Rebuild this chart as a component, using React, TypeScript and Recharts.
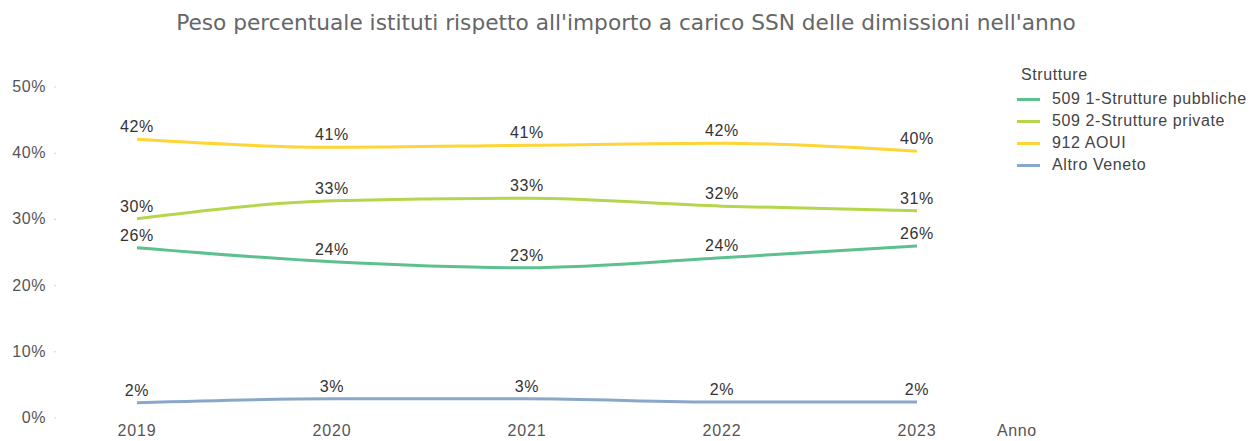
import React from 'react';
import { LineChart, Line, XAxis, YAxis, LabelList } from 'recharts';

const years = ['2019', '2020', '2021', '2022', '2023'];
const pubbliche = [25.7, 23.6, 22.7, 24.2, 26.0];
const private_ = [30.1, 32.8, 33.2, 32.0, 31.3];
const aoui = [42.1, 40.9, 41.2, 41.5, 40.3];
const altroVeneto = [2.3, 2.9, 2.9, 2.4, 2.4];
const yTicks = [0, 10, 20, 30, 40, 50];

const series = [
  { key: 'pubbliche', name: '509 1-Strutture pubbliche', color: '#5cc08f', values: pubbliche },
  { key: 'private', name: '509 2-Strutture private', color: '#b5d64c', values: private_ },
  { key: 'aoui', name: '912 AOUI', color: '#fdd535', values: aoui },
  { key: 'altro', name: 'Altro Veneto', color: '#8aa7ca', values: altroVeneto },
];

const data = years.map((year, i) => {
  const row: any = { year };
  series.forEach((s) => (row[s.key] = s.values[i]));
  return row;
});

const font = '"Liberation Sans", Arial, sans-serif';

const YTick = (props: any) => {
  const { x, y, payload } = props;
  return (
    <g>
      <text x={46} y={y} dy={5} textAnchor="end" fontSize={16} fill="#555" fontFamily={font} letterSpacing={0.6}>
        {payload.value}%
      </text>
      <circle cx={x + 1} cy={y} r={0.8} fill="#ccc" />
    </g>
  );
};

// legenda a destra, fuori dall'area del grafico
const LegendBox = () => (
  <div style={{ position: 'absolute', left: 1017, top: 66, fontFamily: font, fontSize: 16, color: '#444', letterSpacing: 0.6 }}>
    <div style={{ marginLeft: 4, height: 22 }}>Strutture</div>
    {series.map((s) => (
      <div key={s.key} style={{ display: 'flex', alignItems: 'center', height: 22 }}>
        <span style={{ width: 23, height: 3, background: s.color, marginRight: 12 }} />
        <span>{s.name}</span>
      </div>
    ))}
  </div>
);

export default function App() {
  return (
    <div style={{ position: 'absolute', left: 0, top: 0, width: 1260, height: 441, background: '#fff' }}>
      <div
        style={{
          position: 'absolute',
          top: 10,
          left: 0,
          width: 1252,
          textAlign: 'center',
          fontFamily: '"DejaVu Sans", sans-serif',
          fontSize: 21.7,
          color: '#666',
        }}
      >
        Peso percentuale istituti rispetto all'importo a carico SSN delle dimissioni nell'anno
      </div>
      <div style={{ position: 'absolute', left: 997, top: 422, fontFamily: font, fontSize: 16, color: '#555', letterSpacing: 0.6 }}>
        Anno
      </div>
      <LegendBox />
      <LineChart width={1260} height={441} data={data} margin={{ top: 87, right: 270, bottom: 0, left: 0 }}>
        <XAxis
          dataKey="year"
          axisLine={false}
          tickLine={false}
          height={23}
          padding={{ left: 75, right: 73 }}
          tick={{ fontSize: 16, fill: '#555', fontFamily: font, letterSpacing: 0.8 }}
          dy={-1}
        />
        <YAxis
          width={62}
          domain={[0, 50]}
          ticks={yTicks}
          axisLine={false}
          tickLine={false}
          tick={<YTick />}
        />
        {series.map((s) => (
          <Line
            key={s.key}
            dataKey={s.key}
            name={s.name}
            type="monotone"
            stroke={s.color}
            strokeWidth={3}
            dot={false}
            isAnimationActive={false}
          >
            <LabelList
              dataKey={s.key}
              position="top"
              offset={7}
              formatter={(v: any) => `${Math.round(v)}%`}
              style={{ fontSize: 16, fill: '#333', fontFamily: font, letterSpacing: 0.6 }}
            />
          </Line>
        ))}
      </LineChart>
    </div>
  );
}
